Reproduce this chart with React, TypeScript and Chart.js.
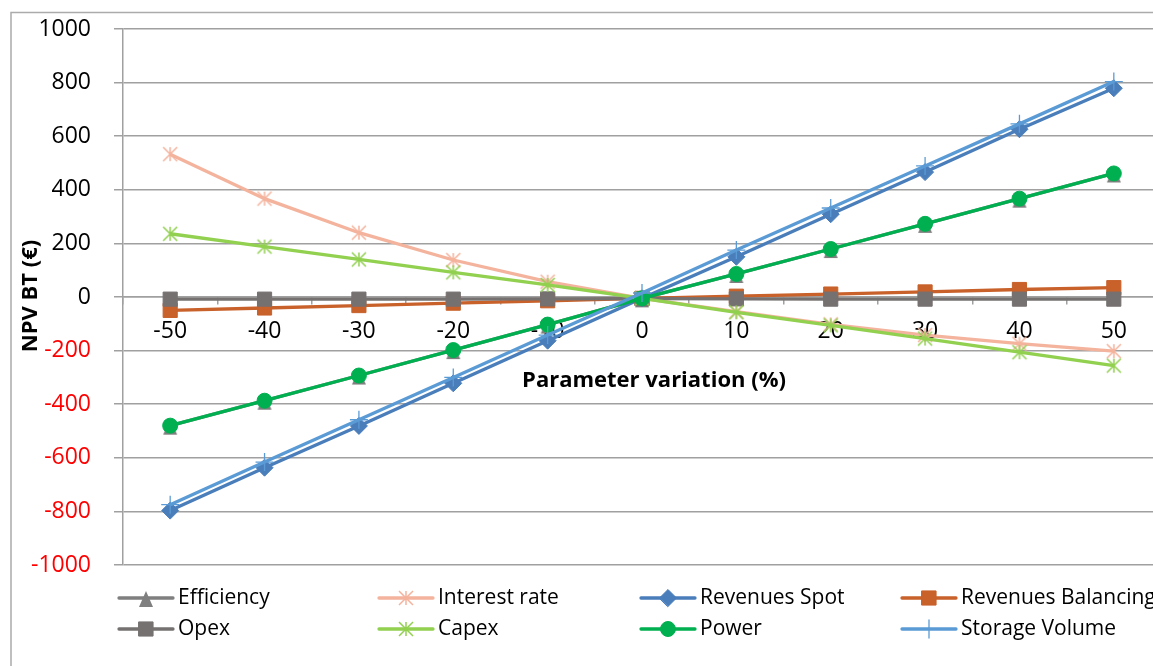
import React, { useEffect, useRef } from 'react';
import { Chart, registerables } from 'chart.js';
import { drawPoint } from 'chart.js/helpers';

Chart.register(...registerables);

// ---------- data ----------
const categories = ['-50', '-40', '-30', '-20', '-10', '0', '10', '20', '30', '40', '50'];

const efficiency = [-480, -387, -293, -198, -103, -5, 86, 179, 273, 367, 461];
const interestRate = [533, 367, 240, 138, 57, -5, -55, -102, -142, -174, -202];
const revenuesSpot = [-797, -637, -481, -322, -163, -5, 150, 309, 466, 626, 779];
const revenuesBalancing = [-50, -41, -32, -23, -14, -5, 3, 11, 19, 28, 35];
const opex = [-8, -8, -8, -8, -7, -6, -7, -8, -8, -8, -8];
const capex = [236, 188, 140, 92, 45, -5, -57, -106, -155, -206, -256];
const power = [-480, -387, -293, -198, -103, -5, 86, 179, 273, 367, 461];
const storageVolume = [-775, -616, -458, -300, -142, 15, 175, 332, 489, 646, 804];

const seriesNames = [
  'Efficiency',
  'Interest rate',
  'Revenues Spot',
  'Revenues Balancing',
  'Opex',
  'Capex',
  'Power',
  'Storage Volume',
];

const yMin = -1000;
const yMax = 1000;
const yStep = 200;

const xTitle = 'Parameter variation (%)';
const yTitle = 'NPV BT (€)';

// ---------- styles ----------
const FONT = '"Open Sans", "DejaVu Sans", sans-serif';
const GRID = '#A0A0A0';

function makeStar(color: string, half: number, lw: number) {
  const s = Math.ceil(half * 2 + 4);
  const c = document.createElement('canvas');
  c.width = s;
  c.height = s;
  const g = c.getContext('2d')!;
  g.strokeStyle = color;
  g.lineWidth = lw;
  const m = s / 2;
  g.beginPath();
  g.moveTo(m, m - half);
  g.lineTo(m, m + half);
  g.moveTo(m - half, m - half);
  g.lineTo(m + half, m + half);
  g.moveTo(m - half, m + half);
  g.lineTo(m + half, m - half);
  g.stroke();
  return c;
}

function makeTriangle(color: string) {
  const c = document.createElement('canvas');
  c.width = 16;
  c.height = 20;
  const g = c.getContext('2d')!;
  g.fillStyle = color;
  g.beginPath();
  g.moveTo(8, 3);
  g.lineTo(15, 19);
  g.lineTo(1, 19);
  g.closePath();
  g.fill();
  return c;
}

const frameAndTitles = {
  id: 'frameAndTitles',
  beforeDraw(chart: any) {
    const ctx = chart.ctx;
    ctx.save();
    ctx.fillStyle = '#FFFFFF';
    ctx.fillRect(0, 0, chart.width, chart.height);
    ctx.strokeStyle = '#ABABAB';
    ctx.lineWidth = 1.5;
    ctx.strokeRect(11, 12.5, 3000, 3000);
    ctx.restore();
  },
  afterDraw(chart: any) {
    const ctx = chart.ctx;
    ctx.save();
    ctx.fillStyle = '#000000';
    ctx.font = `bold 22px ${FONT}`;
    ctx.textAlign = 'center';
    ctx.textBaseline = 'middle';
    ctx.fillText(xTitle, 654, 381);
    ctx.translate(31, 296);
    ctx.rotate(-Math.PI / 2);
    ctx.fillText(yTitle, 0, 0);
    ctx.restore();

    // legend
    const colsText = [178, 438, 700, 961];
    const rowsY = [598, 629];
    chart.data.datasets.forEach((ds: any, i: number) => {
      const row = Math.floor(i / 4);
      const col = i % 4;
      const y = rowsY[row];
      const tx = colsText[col];
      const x0 = tx - 59;
      const x1 = tx - 5;
      ctx.save();
      ctx.strokeStyle = ds.borderColor;
      ctx.lineWidth = 3.3;
      ctx.lineCap = 'round';
      ctx.beginPath();
      ctx.moveTo(x0, y);
      ctx.lineTo(x1, y);
      ctx.stroke();
      ctx.fillStyle = ds.pointBackgroundColor;
      ctx.strokeStyle = ds.pointBorderColor;
      ctx.lineWidth = ds.pointBorderWidth;
      drawPoint(
        ctx,
        {
          pointStyle: ds.pointStyle,
          radius: ds.pointRadius,
          rotation: 0,
          borderWidth: ds.pointBorderWidth,
        } as any,
        (x0 + x1) / 2,
        y
      );
      ctx.fillStyle = '#000000';
      ctx.font = `21px ${FONT}`;
      ctx.textAlign = 'left';
      ctx.textBaseline = 'middle';
      ctx.fillText(ds.label, tx, y);
      ctx.restore();
    });
  },
};

export default function App() {
  const ref = useRef<HTMLCanvasElement | null>(null);

  useEffect(() => {
    if (!ref.current) return;

    const colors = ['#7F7F7F', '#F4B39D', '#4A7EBB', '#C8612A', '#767171', '#92D050', '#00B050', '#5B9BD5'];
    const values = [efficiency, interestRate, revenuesSpot, revenuesBalancing, opex, capex, power, storageVolume];
    const styles: any[] = [
      makeTriangle(colors[0]),
      makeStar(colors[1], 7, 1.5),
      'rectRot',
      'rect',
      'rect',
      makeStar(colors[5], 7, 1.5),
      'circle',
      'cross',
    ];
    const radii = [8, 8, 8.5, 10, 10, 8, 7.5, 9];
    const borderW = [1, 1, 1, 1, 1, 1, 1, 1.3];

    const datasets = seriesNames.map((name, i) => ({
      label: name,
      data: values[i],
      borderColor: colors[i],
      backgroundColor: colors[i],
      borderWidth: 3.3,
      pointStyle: styles[i],
      pointRadius: radii[i],
      pointBackgroundColor: colors[i],
      pointBorderColor: colors[i],
      pointBorderWidth: borderW[i],
      tension: 0,
      order: seriesNames.length - 1 - i,
    }));

    const chart = new Chart(ref.current, {
      type: 'line',
      data: { labels: categories, datasets },
      plugins: [frameAndTitles],
      options: {
        animation: false,
        responsive: false,
        events: [],
        layout: { padding: { left: 0, top: 29, right: 14, bottom: 101 } },
        plugins: {
          legend: { display: false },
          tooltip: { enabled: false },
          title: { display: false },
        },
        scales: {
          x: {
            type: 'category',
            position: { y: 0 } as any,
            offset: true,
            grid: {
              display: true,
              drawOnChartArea: false,
              drawTicks: true,
              tickLength: 7,
              color: GRID,
              lineWidth: 1.5,
              offset: true,
            },
            border: { display: true, color: GRID, width: 1.5 },
            ticks: {
              color: '#000000',
              font: { family: FONT, size: 23 },
              padding: 14,
              maxRotation: 0,
              autoSkip: false,
            },
          },
          y: {
            type: 'linear',
            position: 'left',
            min: yMin,
            max: yMax,
            afterFit: (scale: any) => {
              scale.width = 123;
              scale.paddingTop = 0;
              scale.paddingBottom = 0;
            },
            grid: {
              color: GRID,
              lineWidth: 1.5,
              drawTicks: true,
              tickLength: 9,
            },
            border: { display: true, color: GRID, width: 1.5 },
            ticks: {
              stepSize: yStep,
              padding: 23,
              font: { family: FONT, size: 23 },
              callback: (v: any) => String(v),
              color: (c: any) => (c.tick && c.tick.value < 0 ? '#FF0000' : '#000000'),
            },
          },
        },
      },
    });

    return () => {
      chart.destroy();
    };
  }, []);

  return (
    <div
      style={{
        position: 'fixed',
        left: 0,
        top: 0,
        width: 1153,
        height: 666,
        overflow: 'hidden',
        background: '#FFFFFF',
      }}
    >
      <canvas ref={ref} width={1175} height={666} style={{ display: 'block' }} />
    </div>
  );
}
